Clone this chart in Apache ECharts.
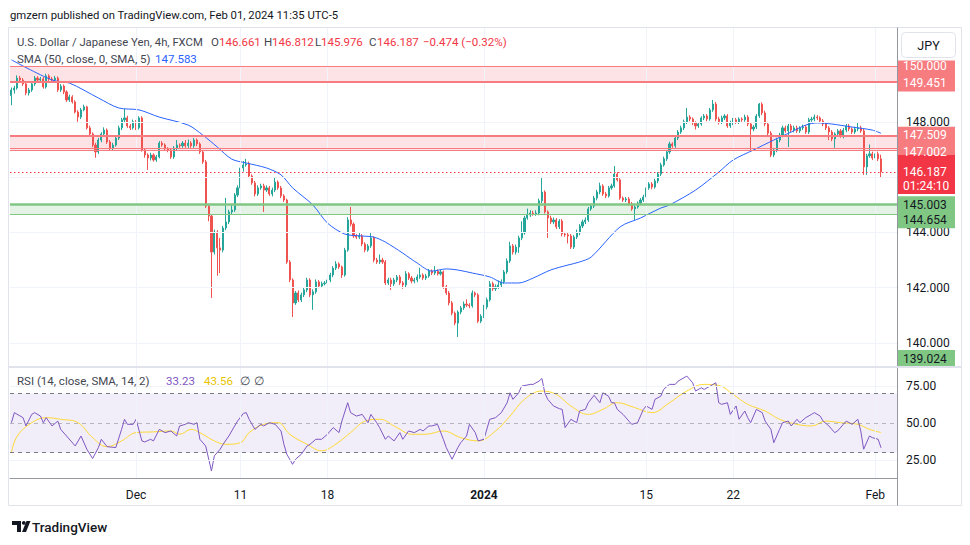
<!DOCTYPE html>
<html><head><meta charset="utf-8">
<script src="https://cdn.jsdelivr.net/npm/echarts@6.0.0/dist/echarts.min.js"></script>
<style>html,body{margin:0;padding:0;background:#fff}#c{width:970px;height:545px}</style>
</head><body><div id="c"></div>
<script>
// ---------- DATA ----------
const firstOpen = 148.95;
const closes = [
149.15,149.22,149.58,149.51,149.37,149.04,149.15,149.37,149.58,149.51,
149.55,149.26,149.66,149.55,149.51,149.58,149.15,149.29,149.08,148.79,
148.90,148.72,148.35,148.17,148.43,148.54,147.78,147.56,147.16,146.91,
147.34,147.56,147.70,147.27,147.05,147.16,147.41,147.78,148.07,148.14,
147.85,147.78,148.00,147.78,148.14,146.98,146.80,146.69,146.80,146.62,
146.73,147.23,147.16,147.02,146.98,146.73,147.05,147.16,147.13,147.23,
147.13,147.23,147.13,147.34,147.20,146.91,146.55,144.95,144.59,143.29,
144.01,143.44,143.36,144.16,144.38,144.74,144.81,145.35,145.61,146.33,
146.44,146.48,146.04,145.79,145.39,145.61,145.68,145.53,145.61,145.39,
145.53,145.82,145.61,145.32,145.17,142.93,142.28,141.45,141.81,141.56,
141.74,141.92,142.28,141.74,141.85,142.21,142.06,142.14,142.17,142.28,
142.46,142.71,142.86,142.75,142.46,143.36,144.45,144.30,143.87,143.83,
143.87,143.58,143.36,143.51,143.80,143.00,142.93,143.00,142.93,142.17,
142.28,142.14,142.28,142.39,142.17,142.10,142.50,142.35,142.24,142.28,
142.39,142.46,142.35,142.42,142.60,142.53,142.60,142.50,142.57,142.03,
141.81,141.45,141.08,140.72,141.12,141.27,141.41,141.37,141.34,141.81,
141.74,140.79,140.97,141.30,141.56,142.14,141.96,142.03,142.10,142.21,
142.57,142.97,143.51,143.29,143.47,143.80,143.98,144.52,144.63,144.70,
144.67,144.70,145.14,145.46,144.74,144.52,144.38,144.45,144.20,144.41,
143.94,143.91,143.87,143.47,143.83,143.98,144.23,144.38,144.45,144.85,
144.95,145.24,145.46,145.68,145.39,145.32,145.61,145.68,146.11,145.90,
145.24,145.17,145.21,145.03,144.85,144.92,145.06,145.17,145.28,145.61,
145.75,145.64,145.86,146.11,146.44,146.66,146.91,147.20,147.13,147.41,
147.63,147.78,148.00,148.17,148.10,147.96,147.85,147.92,148.14,148.21,
148.10,148.43,148.64,148.10,148.00,148.14,148.21,147.85,147.96,148.07,
148.00,148.10,148.07,148.17,147.92,147.74,147.81,148.21,148.64,148.32,
147.92,147.59,146.80,146.98,147.34,147.52,147.78,147.67,147.85,147.70,
147.78,147.67,147.78,147.81,147.63,148.07,148.10,148.17,148.14,148.03,
147.92,147.78,147.63,147.38,147.56,147.67,147.49,147.70,147.85,147.74,
147.63,147.74,147.78,147.67,146.37,146.77,146.84,146.69,146.84,146.66,
146.187];
const highs = [
149.24,149.30,149.68,149.66,149.58,149.43,149.22,149.45,149.66,149.65,
149.62,149.62,149.74,149.72,149.62,149.66,149.64,149.36,149.35,149.14,
148.98,148.96,148.78,148.42,148.50,148.62,148.58,147.86,147.62,147.24,
147.42,147.62,147.80,147.76,147.34,147.24,147.48,147.86,148.14,148.47,
148.22,147.92,148.08,148.06,148.20,148.20,147.04,146.86,146.88,146.86,
146.80,147.30,147.30,147.22,147.08,147.04,147.12,147.34,147.22,147.30,
147.34,147.36,147.30,147.42,147.40,147.26,146.98,146.62,145.02,144.66,
144.10,144.08,143.80,144.24,145.25,144.82,145.00,145.42,145.70,146.44,
146.58,146.66,146.56,146.10,145.86,145.70,145.76,145.76,145.70,145.68,
145.62,145.98,145.88,145.68,145.38,145.22,143.00,142.34,141.88,141.90,
141.82,142.00,142.36,142.34,141.94,142.30,142.28,142.22,142.24,142.36,
142.54,142.78,142.96,142.92,142.80,143.44,144.55,144.92,144.36,143.94,
144.00,143.94,143.64,143.58,144.00,143.86,143.08,143.20,143.08,143.00,
142.36,142.36,142.36,142.46,142.46,142.24,142.60,142.56,142.42,142.36,
142.48,142.72,142.52,142.50,142.68,142.66,142.78,142.66,142.64,142.62,
142.10,141.88,141.52,141.14,141.18,141.34,141.50,141.58,141.44,141.90,
141.86,141.80,141.04,141.38,141.64,142.24,142.22,142.12,142.26,142.30,
142.64,143.06,143.66,143.58,143.56,143.88,144.40,144.60,144.86,144.80,
144.78,144.80,145.22,145.97,145.52,144.80,144.60,144.54,144.52,144.48,
144.48,144.02,144.00,143.94,143.90,144.10,144.30,144.46,144.54,144.92,
145.02,145.32,145.54,145.80,145.74,145.46,145.68,145.76,146.40,146.18,
145.96,145.30,145.28,145.28,145.10,145.00,145.12,145.24,145.36,145.68,
145.82,145.82,145.94,146.18,146.52,146.74,146.98,147.28,147.26,147.48,
147.70,147.86,148.08,148.50,148.24,148.16,148.02,147.98,148.20,148.28,
148.28,148.50,148.79,148.72,148.18,148.22,148.28,148.28,148.04,148.14,
148.14,148.16,148.16,148.26,148.24,147.98,147.88,148.28,148.68,148.70,
148.40,148.00,147.66,147.06,147.42,147.60,147.86,147.86,147.92,147.92,
147.86,147.86,147.84,147.90,147.88,148.14,148.18,148.26,148.24,148.20,
148.10,147.98,147.84,147.70,147.62,147.74,147.74,147.78,147.92,147.92,
147.80,147.82,147.96,147.86,147.74,146.84,147.18,146.92,147.18,146.92,
146.812];
const lows = [
148.60,149.02,149.16,149.42,149.30,148.96,148.95,149.08,149.30,149.44,
149.44,149.20,149.20,149.48,149.44,149.46,149.08,149.08,149.00,148.72,
148.72,148.66,148.30,148.00,148.10,148.38,147.72,147.48,147.08,146.70,
146.84,147.26,147.48,147.20,146.98,146.98,147.10,147.34,147.70,147.98,
147.78,147.70,147.72,147.70,147.72,146.92,146.70,146.26,146.60,146.56,
146.55,146.68,147.10,146.96,146.90,146.66,146.66,146.98,147.06,147.06,
147.06,147.06,147.06,147.06,147.12,146.84,146.48,144.88,144.40,141.63,
143.20,142.43,142.53,143.28,144.08,144.30,144.66,144.74,145.28,145.54,
146.20,146.38,145.98,145.72,145.30,145.32,145.54,144.74,145.46,145.32,
145.30,145.46,145.54,145.24,145.10,142.86,142.20,140.94,141.38,141.48,
141.48,141.66,141.84,141.66,141.20,141.78,141.98,142.00,142.08,142.10,
142.20,142.38,142.64,142.68,142.35,142.40,143.30,144.22,143.80,143.76,
143.76,143.50,143.28,143.30,143.44,142.92,142.86,142.86,142.86,142.10,
142.10,141.92,142.06,142.20,142.10,141.96,142.02,142.28,142.16,142.16,
142.20,142.32,142.28,142.28,142.36,142.46,142.46,142.44,142.44,141.96,
141.74,141.36,141.00,140.64,140.22,141.04,141.20,141.30,141.26,141.28,
141.66,140.72,140.72,140.90,141.22,141.50,141.88,141.88,141.96,142.02,
142.14,142.50,142.90,143.20,143.20,143.26,143.72,143.92,144.46,144.56,
144.60,144.60,144.62,145.06,144.68,143.80,144.30,144.30,144.12,144.12,
143.86,143.84,143.60,143.40,143.40,143.76,143.90,144.16,144.30,144.38,
144.78,144.88,145.16,145.38,145.32,145.24,145.26,145.54,145.62,145.84,
145.18,145.10,145.10,144.96,144.78,144.45,144.86,145.00,145.10,145.22,
145.54,145.56,145.58,145.78,146.04,146.38,146.58,146.84,147.06,147.06,
147.34,147.56,147.70,147.92,148.02,147.88,147.72,147.78,147.86,148.06,
148.02,148.04,148.36,148.02,147.90,147.92,148.06,147.78,147.78,147.88,
147.92,147.92,148.00,148.00,147.84,146.98,147.66,147.74,148.14,148.24,
147.84,147.50,146.72,146.72,146.90,147.26,147.44,147.60,147.09,147.62,
147.62,147.60,147.60,147.70,147.56,147.56,148.00,148.02,148.06,147.96,
147.84,147.70,147.34,147.30,147.06,147.48,147.42,147.40,147.62,147.66,
147.56,147.56,147.66,147.60,146.08,146.08,146.70,146.62,146.62,146.58,
145.976];
// SMA(50) read as [candle index, value]
const smaPoints = [[0,150.24],[14,149.51],[20,149.40],[30,148.86],[37,148.50],[44,148.43],[51,148.17],[61,147.88],[66,147.52],[71,147.09],[76,146.65],[81,146.51],[88,146.33],[93,146.08],[97,145.61],[104,144.99],[109,144.34],[115,143.94],[121,143.87],[125,143.83],[129,143.65],[135,143.25],[140,142.89],[145,142.60],[150,142.68],[154,142.64],[159,142.53],[165,142.39],[170,142.17],[175,142.17],[180,142.35],[186,142.64],[192,142.82],[196,142.93],[200,143.11],[210,144.20],[217,144.52],[224,144.88],[227,144.99],[236,145.53],[244,146.18],[249,146.62],[256,146.98],[263,147.34],[269,147.63],[274,147.88],[278,147.96],[283,147.92],[290,147.81],[297,147.70],[300,147.583]];
// RSI(14) read as [candle index, value]
const rsiPoints = [[0,50.2],[1,57],[4,53.6],[5,48],[7,55.8],[8,57],[10,54.7],[11,50.2],[12,53.6],[14,48],[16,51.3],[17,45.7],[19,41.2],[22,34.5],[24,41.2],[26,32.3],[28,26],[30,33.4],[31,39],[33,34],[36,33.4],[38,45.7],[39,52.5],[40,49.1],[42,49.1],[43,52.5],[45,37.9],[46,37.2],[48,39],[49,37.9],[51,45.7],[53,43.5],[55,44.6],[57,41.2],[58,48],[60,49.1],[61,50.2],[63,49.1],[64,50.2],[65,39],[67,34.5],[69,17.6],[70,27.8],[72,32.3],[73,35.6],[75,41.2],[77,48],[78,51.3],[80,56.5],[81,57],[82,52.5],[84,45.7],[86,49.1],[87,48],[89,50.2],[91,49.1],[93,44.6],[94,35.6],[95,28.9],[97,22.1],[98,25.5],[100,28.9],[102,34.5],[103,35.6],[105,39],[107,39],[109,42.4],[111,46.9],[113,43.5],[114,51.3],[116,63.7],[117,57],[119,54.7],[121,55.8],[123,50.2],[124,55.8],[126,50.2],[127,46.9],[129,39],[130,41.2],[132,37.9],[134,43.5],[135,39],[137,44.6],[139,43.5],[141,45.7],[142,44.6],[144,48],[145,48],[147,49.1],[149,39],[150,33.4],[152,25.5],[154,33.4],[155,36.7],[157,41.2],[158,49.1],[160,43.5],[161,37.9],[163,39],[165,52.5],[167,53.6],[169,57],[171,63.7],[172,70.4],[173,66],[175,70.4],[176,74.9],[179,76.1],[180,76.1],[182,78.3],[183,80.1],[184,70.4],[185,66],[187,61.5],[189,59.7],[190,59.2],[191,46.9],[193,52.5],[195,50.2],[196,58.1],[198,59.2],[199,63.7],[201,68.7],[203,63.7],[204,70.4],[206,68.1],[207,63.7],[208,63.7],[209,59.2],[211,55.8],[213,51.3],[214,49.1],[216,50.2],[218,59.2],[219,61.5],[221,59.2],[222,66],[224,68.1],[225,72.7],[227,76.1],[229,76.1],[230,78.3],[233,81.7],[235,77.2],[236,71.6],[238,73.8],[239,72.7],[241,74.9],[243,77.2],[244,63.7],[245,62.6],[247,63.7],[248,55.8],[250,61.5],[251,52.5],[253,58.1],[254,53.6],[255,50.2],[257,59.2],[259,57],[260,51.3],[262,45.7],[263,36.7],[265,45.7],[266,50.2],[268,51.3],[269,48],[271,52.5],[272,50.2],[274,53.6],[276,55.8],[277,57],[279,54.7],[280,51.3],[282,48],[284,43.5],[285,44.6],[287,49.1],[288,51.3],[290,49.1],[292,52.5],[293,44.6],[294,32.3],[296,41.2],[297,40.1],[299,39],[300,33.23]];
// RSI-based SMA(14) read as [candle index, value]
const rsiSmaPoints = [[0,30],[2,41.2],[7,50.2],[12,53.6],[17,52.5],[23,50.2],[28,40.1],[33,34],[38,37.9],[43,43.5],[49,44],[55,44.6],[58,42.4],[62,45.7],[65,43.5],[70,37.9],[74,35.6],[79,36.7],[82,43.5],[87,49.1],[92,50.2],[96,42.4],[102,35.6],[107,31.2],[111,34.5],[117,43.5],[122,51.3],[127,52.5],[133,46.9],[138,42.4],[143,42.4],[149,44.6],[155,40.1],[161,37.9],[167,44.6],[172,54.7],[177,66],[183,71.6],[188,69.3],[193,61.5],[199,55.8],[204,59.2],[209,63.7],[215,60.4],[221,57],[227,63.7],[233,71.6],[239,76.1],[244,75.4],[249,69.3],[254,62.6],[260,58.1],[265,52.5],[271,49.1],[276,48],[281,51.3],[286,50.2],[292,49.1],[296,45.7],[300,43.56]];
const tickIdx  = [43, 79, 109, 163, 219, 249, 298];
const tickText = ['Dec', '11', '18', '2024', '15', '22', 'Feb'];
const priceGrid = [140, 142, 144, 146, 148, 150];
const priceLabels = [140, 142, 144, 148];   // 146 and 150 are hidden behind price tags
const rsiTicks = [25, 50, 75];
const redBand1 = [150.000, 149.451];
const redBand2 = [147.509, 147.002];
const redBand2Extra = 146.97;
const greenBand = [145.003, 144.654];
const lastPrice = 146.187;
const countdown = '01:24:10';
const lowTag = 139.024;
const rsiLevels = [70, 50, 30];

// ---------- BUILD ----------
const FONT = 'Roboto, "Liberation Sans", sans-serif';
const PAD = 5;
const cats = Array.from({length: closes.length + PAD}, (_, i) => String(i));
const opens = closes.map((c, i) => i === 0 ? firstOpen : closes[i - 1]);
const candleData = closes.map((c, i) => [opens[i], c, lows[i], highs[i]]);
const tickSet = new Set(tickIdx);
const GRID_COLOR = '#f0f3fa';
const PINK = '#f77c80', RED = '#f23645', GREEN = '#81c784';

const chart = echarts.init(document.getElementById('c'), null, {renderer: 'svg', width: 970, height: 545});

const option = {
  animation: false,
  backgroundColor: '#ffffff',
  textStyle: {fontFamily: FONT},
  grid: [
    {left: 10, top: 28, width: 887, height: 339},
    {left: 10, top: 367, width: 887, height: 111}
  ],
  xAxis: [
    {type: 'category', gridIndex: 0, data: cats, axisLine: {show: false}, axisTick: {show: false}, axisLabel: {show: false}, splitLine: {show: false}},
    {type: 'category', gridIndex: 1, data: cats, axisLine: {show: true, lineStyle: {color: '#9598a1'}}, axisTick: {show: false},
     splitLine: {show: false},
     axisLabel: {
       interval: (i) => tickSet.has(i),
       formatter: (v, i) => { const k = tickIdx.indexOf(Number(v)); const t = k >= 0 ? tickText[k] : ''; return t === '2024' ? '{b|' + t + '}' : t; },
       color: '#131722', fontSize: 12, margin: 11, fontFamily: FONT,
       rich: {b: {fontWeight: 'bold', fontSize: 12, color: '#131722', fontFamily: FONT}}
     }}
  ],
  yAxis: [
    {type: 'value', gridIndex: 0, position: 'right', min: 139.132, max: 151.392, scale: true,
     axisLine: {show: false}, axisTick: {show: false}, splitLine: {show: false},
     axisLabel: {customValues: priceLabels, formatter: v => v.toFixed(3), color: '#131722', fontSize: 12, margin: 9, fontFamily: FONT}},
    {type: 'value', gridIndex: 1, position: 'right', min: 12.84, max: 87.84,
     axisLine: {show: false}, axisTick: {show: false}, splitLine: {show: false},
     axisLabel: {customValues: rsiTicks, formatter: v => v.toFixed(2), color: '#131722', fontSize: 12, margin: 9, fontFamily: FONT}}
  ],
  series: [
    {type: 'line', xAxisIndex: 0, yAxisIndex: 0, data: [], silent: true, z: 0,
     markLine: {silent: true, symbol: ['none', 'none'], label: {show: false}, animation: false,
       lineStyle: {color: GRID_COLOR, width: 1, type: 'solid'},
       data: priceGrid.map(v => ({yAxis: v})).concat(tickIdx.map(i => ({xAxis: cats[i]})))}},
    {type: 'line', xAxisIndex: 0, yAxisIndex: 0, data: [], silent: true, z: 1,
     markArea: {silent: true, data: [
       [{yAxis: redBand1[0], itemStyle: {color: 'rgba(242,54,69,0.14)'}}, {yAxis: redBand1[1]}],
       [{yAxis: redBand2[0], itemStyle: {color: 'rgba(242,54,69,0.14)'}}, {yAxis: redBand2Extra}],
       [{yAxis: greenBand[0], itemStyle: {color: 'rgba(76,175,80,0.15)'}}, {yAxis: greenBand[1]}]
     ]}},
    {type: 'candlestick', xAxisIndex: 0, yAxisIndex: 0, data: candleData, barWidth: 1.6, z: 2,
     itemStyle: {color: '#26a69a', color0: '#ef5350', borderColor: '#26a69a', borderColor0: '#ef5350', borderWidth: 1}},
    {type: 'line', xAxisIndex: 0, yAxisIndex: 0, data: smaPoints, smooth: 0.3, symbol: 'none', z: 3,
     lineStyle: {color: '#2962ff', width: 1}},
    {type: 'line', xAxisIndex: 0, yAxisIndex: 0, data: [], silent: true, z: 4,
     markLine: {silent: true, symbol: ['none', 'none'], label: {show: false}, animation: false, data: [
       {yAxis: redBand1[0], lineStyle: {color: PINK, width: 1, type: 'solid'}},
       {yAxis: redBand1[1], lineStyle: {color: PINK, width: 2, type: 'solid'}},
       {yAxis: redBand2[0], lineStyle: {color: PINK, width: 2, type: 'solid'}},
       {yAxis: redBand2[1] + 0.045, lineStyle: {color: PINK, width: 1, type: 'solid'}},
       {yAxis: redBand2Extra, lineStyle: {color: PINK, width: 1, type: 'solid'}},
       {yAxis: greenBand[0], lineStyle: {color: GREEN, width: 2.5, type: 'solid'}},
       {yAxis: greenBand[1], lineStyle: {color: GREEN, width: 1, type: 'solid'}},
       {yAxis: lastPrice, lineStyle: {color: RED, width: 1, type: [1.5, 2.5]}}
     ]}},
    {type: 'line', xAxisIndex: 1, yAxisIndex: 1, data: [], silent: true, z: 0,
     markLine: {silent: true, symbol: ['none', 'none'], label: {show: false}, animation: false,
       lineStyle: {color: GRID_COLOR, width: 1, type: 'solid'},
       data: [{yAxis: 25}, {yAxis: 75}].concat(tickIdx.map(i => ({xAxis: cats[i]})))}},
    {type: 'line', xAxisIndex: 1, yAxisIndex: 1, data: rsiPoints, symbol: 'none', z: 3,
     lineStyle: {color: '#7e57c2', width: 1},
     markArea: {silent: true, itemStyle: {color: 'rgba(126,87,194,0.1)'}, data: [[{yAxis: rsiLevels[2]}, {yAxis: rsiLevels[0]}]]},
     markLine: {silent: true, symbol: ['none', 'none'], label: {show: false}, animation: false, data: [
       {yAxis: rsiLevels[0], lineStyle: {color: '#787b86', width: 1, type: [4, 4]}},
       {yAxis: rsiLevels[1], lineStyle: {color: 'rgba(120,123,134,0.5)', width: 1, type: [4, 4]}},
       {yAxis: rsiLevels[2], lineStyle: {color: '#787b86', width: 1, type: [4, 4]}}
     ]}},
    {type: 'line', xAxisIndex: 1, yAxisIndex: 1, data: rsiSmaPoints, smooth: 0.4, symbol: 'none', z: 2,
     lineStyle: {color: '#fdd835', width: 1}}
  ]
};
chart.setOption(option);

// ---------- overlays: price tags, legends, frame ----------
const py = v => chart.convertToPixel({yAxisIndex: 0}, v);
const TX = 897, TW = 58, LH = 16.5, TFS = 12;
const g = [];
function txt(x, y, text, color, opts) {
  g.push(Object.assign({type: 'text', x: x, y: y, z: 120,
    style: Object.assign({text: text, fill: color, fontSize: 12, fontFamily: FONT, verticalAlign: 'middle', align: 'left'}, (opts || {}))}));
}
function box(y0, y1, color) {
  g.push({type: 'rect', z: 110, shape: {x: TX, y: y0, width: TW, height: y1 - y0}, style: {fill: color}});
}
function pairTag(v1, v2, bg, fg, gap) {
  const c1 = py(v1); const c2 = Math.max(py(v2), c1 + gap);
  box(c1 - 8.5, c2 + 8.5, bg);
  txt(TX + 6, c1, v1.toFixed(3), fg, {fontSize: TFS});
  txt(TX + 6, c2, v2.toFixed(3), fg, {fontSize: TFS});
}
pairTag(redBand1[0], redBand1[1], PINK, '#ffffff', LH);
pairTag(redBand2[0], redBand2[1], PINK, '#ffffff', LH);
(function () {
  const c = py(lastPrice);
  box(c - 17, c + 22, RED);
  txt(TX + 6, c, lastPrice.toFixed(3), '#ffffff', {fontSize: TFS});
  txt(TX + 6, c + 14, countdown, '#ffffff', {fontSize: TFS});
})();
pairTag(greenBand[0], greenBand[1], GREEN, '#131722', 15);
(function () {
  const c = Math.min(py(lowTag), 367 - 8.5);
  box(c - 8.5, c + 8.5, GREEN);
  txt(TX + 6, c, lowTag.toFixed(3), '#131722', {fontSize: TFS});
})();
g.push({type: 'rect', z: 125, shape: {x: 897.5, y: 27.5, width: 63, height: 33}, style: {fill: '#ffffff'}});
g.push({type: 'rect', z: 126, shape: {x: 901.5, y: 32.5, width: 54, height: 25, r: 4}, style: {fill: '#ffffff', stroke: '#e0e3eb', lineWidth: 1}});
g.push({type: 'text', z: 127, x: 928.5, y: 45, style: {text: 'JPY', fill: '#131722', fontSize: 12.5, fontFamily: FONT, align: 'center', verticalAlign: 'middle'}});
g.push({type: 'rect', z: 130, silent: true, shape: {x: 8.5, y: 27.5, width: 953, height: 478}, style: {fill: 'none', stroke: '#e0e3eb', lineWidth: 1}});
g.push({type: 'line', z: 130, shape: {x1: 897.5, y1: 27.5, x2: 897.5, y2: 505.5}, style: {stroke: '#9598a1', lineWidth: 1}});
g.push({type: 'line', z: 130, shape: {x1: 8.5, y1: 367, x2: 961.5, y2: 367}, style: {stroke: '#e0e3eb', lineWidth: 2}});
// header
txt(10, 15, 'gmzern published on TradingView.com, Feb 01, 2024 11:35 UTC-5', '#131722', {fontSize: 11.3});
// legend line 1
const L1 = 42;
txt(17, L1, 'U.S. Dollar / Japanese Yen, 4h, FXCM', '#434651', {fontSize: 11.3});
[['O', 211, '146.661', 219], ['H', 264, '146.812', 272], ['L', 315, '145.976', 321], ['C', 369, '146.187', 377]].forEach(a => {
  txt(a[1], L1, a[0], '#434651', {fontSize: 11.5});
  txt(a[3], L1, a[2], RED, {fontSize: 11.5});
});
txt(423, L1, '\u22120.474 (\u22120.32%)', RED, {fontSize: 11.5});
// legend line 2
txt(17, 59, 'SMA (50, close, 0, SMA, 5)', '#434651', {fontSize: 11.5});
txt(155, 59, '147.583', '#2962ff', {fontSize: 11.5});
// RSI legend
const L3 = 381;
txt(17, L3, 'RSI (14, close, SMA, 14, 2)', '#434651', {fontSize: 11.5});
txt(166, L3, '33.23', '#7e57c2', {fontSize: 11.5});
txt(204, L3, '43.56', '#e6c300', {fontSize: 11.5});
txt(240, L3, '\u2205', '#434651', {fontSize: 11.5});
txt(254, L3, '\u2205', '#434651', {fontSize: 11.5});
// TradingView footer logo
g.push({type: 'polygon', z: 120, shape: {points: [[12, 521], [21, 521], [21, 532], [17, 532], [17, 525], [12, 525]]}, style: {fill: '#131722'}});
g.push({type: 'circle', z: 120, shape: {cx: 23.8, cy: 522.9, r: 1.9}, style: {fill: '#131722'}});
g.push({type: 'polygon', z: 120, shape: {points: [[26.5, 521], [30.5, 521], [26, 532], [22, 532]]}, style: {fill: '#131722'}});
txt(32, 527, 'TradingView', '#131722', {fontSize: 13.5, fontWeight: 500});

chart.setOption({graphic: {elements: g}});
</script>
</body></html>
